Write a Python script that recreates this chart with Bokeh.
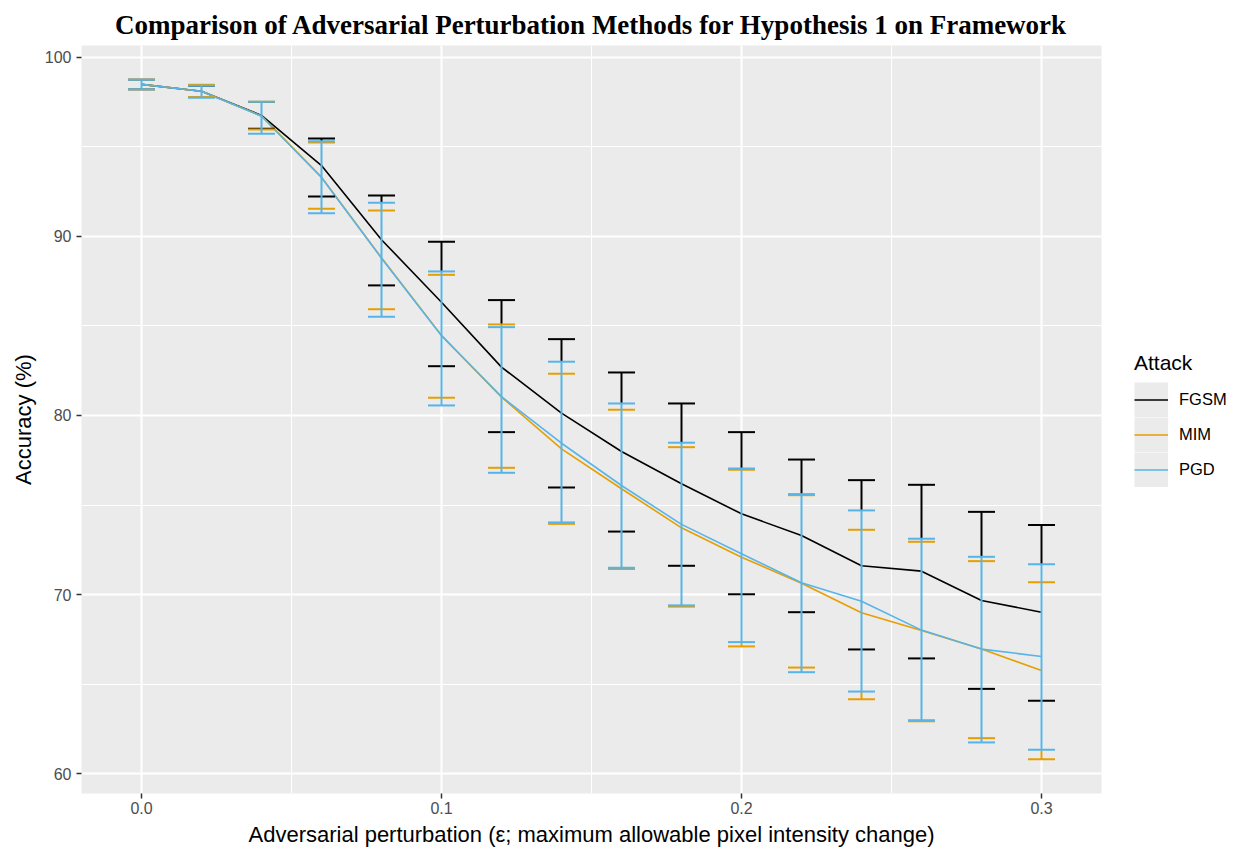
from bokeh.plotting import figure
from bokeh.models import (ColumnDataSource, Whisker, TeeHead, FixedTicker, Legend,
                          LegendItem, Range1d, PrintfTickFormatter)
from bokeh.embed import file_html
from bokeh.resources import INLINE

# ---- data ----
eps = [0.00, 0.02, 0.04, 0.06, 0.08, 0.10, 0.12, 0.14, 0.16, 0.18, 0.20, 0.22, 0.24, 0.26, 0.28, 0.30]

fgsm_mean = [98.48, 98.10, 96.75, 93.95, 89.81, 86.32, 82.70, 80.13, 77.99, 76.19, 74.51, 73.30, 71.61, 71.31, 69.67, 69.02]
fgsm_lo   = [98.21, 97.78, 96.00, 92.22, 87.26, 82.75, 79.07, 75.98, 73.52, 71.61, 70.02, 69.02, 66.94, 66.44, 64.74, 64.07]
fgsm_hi   = [98.74, 98.40, 97.50, 95.46, 92.28, 89.70, 86.44, 84.26, 82.40, 80.67, 79.07, 77.54, 76.39, 76.13, 74.62, 73.88]

mim_mean = [98.48, 98.10, 96.72, 93.30, 88.80, 84.47, 81.02, 78.14, 75.91, 73.73, 72.09, 70.64, 68.99, 68.00, 66.96, 65.77]
mim_lo   = [98.21, 97.78, 95.96, 91.54, 85.93, 80.99, 77.08, 73.95, 71.43, 69.33, 67.11, 65.93, 64.16, 62.93, 61.99, 60.81]
mim_hi   = [98.74, 98.46, 97.51, 95.24, 91.44, 87.85, 85.08, 82.33, 80.32, 78.23, 76.97, 75.55, 73.62, 72.95, 71.87, 70.69]

pgd_mean = [98.48, 98.10, 96.70, 93.28, 88.78, 84.45, 81.05, 78.45, 76.09, 73.92, 72.28, 70.66, 69.63, 68.02, 66.96, 66.55]
pgd_lo   = [98.21, 97.73, 95.72, 91.29, 85.51, 80.56, 76.80, 74.03, 71.50, 69.40, 67.35, 65.67, 64.59, 62.99, 61.75, 61.34]
pgd_hi   = [98.74, 98.40, 97.51, 95.31, 91.87, 88.04, 84.93, 83.00, 80.67, 78.48, 77.04, 75.61, 74.70, 73.12, 72.11, 71.70]

attacks = ["FGSM", "MIM", "PGD"]
colors = ["#000000", "#E69F00", "#56B4E9"]
x_ticks = [0.0, 0.1, 0.2, 0.3]
x_minor = [0.05, 0.15, 0.25]
y_ticks = [60, 70, 80, 90, 100]
y_minor = [65, 75, 85, 95]

series = {
    "FGSM": (fgsm_mean, fgsm_lo, fgsm_hi),
    "MIM": (mim_mean, mim_lo, mim_hi),
    "PGD": (pgd_mean, pgd_lo, pgd_hi),
}

p = figure(frame_width=1020, frame_height=748, output_backend="svg", toolbar_location=None,
           x_range=Range1d(-0.02, 0.32), y_range=Range1d(58.9, 100.65),
           min_border_left=81, min_border_right=130, min_border_top=45, min_border_bottom=60)

p.title.text = "Comparison of Adversarial Perturbation Methods for Hypothesis 1 on Framework"
p.title.text_font = "Liberation Serif"
p.title.text_font_style = "bold"
p.title.text_font_size = "27px"
p.title.align = "center"
p.title.text_color = "black"
p.title.standoff = 11

p.background_fill_color = "#EBEBEB"
p.border_fill_color = "white"
p.outline_line_color = None

p.xaxis.ticker = FixedTicker(ticks=x_ticks, minor_ticks=x_minor)
p.yaxis.ticker = FixedTicker(ticks=y_ticks, minor_ticks=y_minor)
p.xaxis.formatter = PrintfTickFormatter(format="%.1f")
p.axis.axis_line_color = None
p.axis.major_tick_line_color = "#333333"
p.axis.major_tick_line_width = 1.5
p.axis.major_tick_in = 0
p.axis.major_tick_out = 5
p.axis.minor_tick_line_color = None
p.axis.major_label_text_font = "Liberation Sans"
p.axis.major_label_text_font_size = "16px"
p.axis.major_label_text_color = "#4D4D4D"
p.xaxis.major_label_standoff = 3
p.yaxis.major_label_standoff = 5
p.axis.axis_label_text_font = "Liberation Sans"
p.axis.axis_label_text_font_size = "22px"
p.axis.axis_label_text_font_style = "normal"
p.axis.axis_label_text_color = "black"
p.xaxis.axis_label_standoff = 5
p.yaxis.axis_label_standoff = 6
p.xaxis.axis_label = "Adversarial perturbation (\u03b5; maximum allowable pixel intensity change)"
p.yaxis.axis_label = "Accuracy (%)"

p.grid.grid_line_color = "white"
p.grid.grid_line_width = 2
p.grid.minor_grid_line_color = "white"
p.grid.minor_grid_line_width = 1

nan = float("nan")
key_bg = p.line(x=[nan], y=[nan], line_width=35, line_color="#EBEBEB")

items = []
for name, col in zip(attacks, colors):
    m, lo, hi = series[name]
    src = ColumnDataSource(dict(eps=eps, mean=m, lo=lo, hi=hi))
    ln = p.line("eps", "mean", source=src, line_color=col, line_width=1.6)
    items.append(LegendItem(label=name, renderers=[key_bg, ln]))

# Error bars: drawn in layer order FGSM, MIM, PGD (PGD on top).
# Stems of lower layers are drawn only where later layers do not cover them,
# so overlapping anti-aliased strokes do not blend colours.
for i, (name, col) in enumerate(zip(attacks, colors)):
    m, lo, hi = series[name]
    later = [series[a] for a in attacks[i + 1:]]
    src = ColumnDataSource(dict(eps=eps, mean=m, lo=lo, hi=hi))
    top = i == len(attacks) - 1
    w = Whisker(source=src, base="eps", lower="lo", upper="hi", dimension="height",
                line_color=col, line_width=2, line_alpha=1.0 if top else 0.0, level="glyph",
                upper_head=TeeHead(size=27, line_color=col, line_width=2),
                lower_head=TeeHead(size=27, line_color=col, line_width=2))
    if not top:
        sx, sy0, sy1 = [], [], []
        for k in range(len(eps)):
            L = min(s[1][k] for s in later)
            H = max(s[2][k] for s in later)
            if lo[k] < L:
                sx.append(eps[k]); sy0.append(lo[k]); sy1.append(min(hi[k], L))
            if hi[k] > H:
                sx.append(eps[k]); sy0.append(max(lo[k], H)); sy1.append(hi[k])
        if sx:
            p.segment(x0=sx, y0=sy0, x1=sx, y1=sy1, line_color=col, line_width=2)
    p.add_layout(w)

legend = Legend(items=items, title="Attack", location="center_left",
                glyph_width=34, glyph_height=35, spacing=0, label_standoff=11,
                label_height=35, padding=0, margin=33,
                border_line_color=None, background_fill_alpha=0)
legend.title_text_font = "Liberation Sans"
legend.title_text_font_size = "21px"
legend.title_text_font_style = "normal"
legend.title_text_color = "black"
legend.title_standoff = 7
legend.label_text_font = "Liberation Sans"
legend.label_text_font_size = "16.5px"
legend.label_text_color = "black"
p.add_layout(legend, "right")

open("out.html", "w").write(file_html(p, INLINE))
